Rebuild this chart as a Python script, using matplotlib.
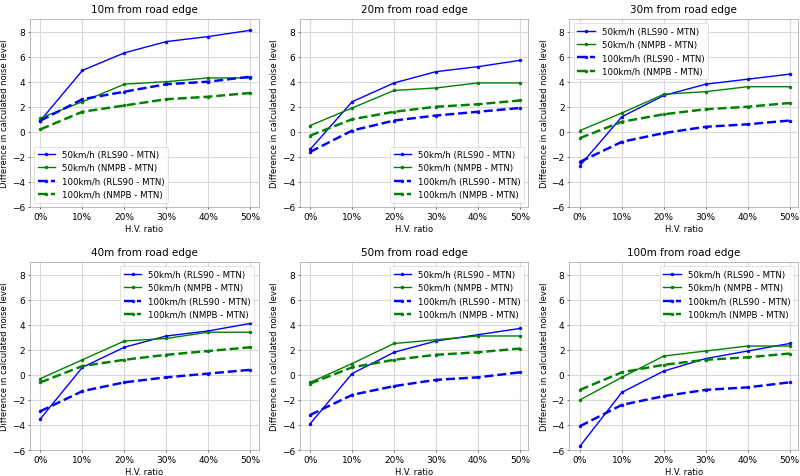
import matplotlib

matplotlib.use("Agg")

import matplotlib.pyplot as plt

ratios = ["0%", "10%", "20%", "30%", "40%", "50%"]
distances = ["10m", "20m", "30m", "40m", "50m", "100m"]

# difference values per distance: (50 RLS90, 50 NMPB, 100 RLS90, 100 NMPB)
v50_rls = [
    [0.9, 4.9, 6.3, 7.2, 7.6, 8.1],
    [-1.4, 2.4, 3.9, 4.8, 5.2, 5.7],
    [-2.7, 1.2, 2.9, 3.8, 4.2, 4.6],
    [-3.5, 0.6, 2.2, 3.1, 3.5, 4.1],
    [-3.9, 0.1, 1.8, 2.7, 3.2, 3.7],
    [-5.7, -1.4, 0.3, 1.3, 1.9, 2.5],
]
v50_nmpb = [
    [1.1, 2.4, 3.8, 4.0, 4.3, 4.3],
    [0.5, 1.9, 3.3, 3.5, 3.9, 3.9],
    [0.1, 1.5, 3.0, 3.2, 3.6, 3.6],
    [-0.3, 1.2, 2.7, 2.9, 3.4, 3.4],
    [-0.6, 0.9, 2.5, 2.8, 3.1, 3.1],
    [-2.0, -0.2, 1.5, 1.9, 2.3, 2.3],
]
v100_rls = [
    [0.9, 2.6, 3.2, 3.8, 4.0, 4.4],
    [-1.6, 0.1, 0.9, 1.3, 1.6, 1.9],
    [-2.4, -0.8, -0.1, 0.4, 0.6, 0.9],
    [-2.9, -1.3, -0.6, -0.2, 0.1, 0.4],
    [-3.2, -1.6, -0.9, -0.4, -0.2, 0.2],
    [-4.1, -2.4, -1.7, -1.2, -1.0, -0.6],
]
v100_nmpb = [
    [0.2, 1.6, 2.1, 2.6, 2.8, 3.1],
    [-0.3, 1.0, 1.6, 2.0, 2.2, 2.5],
    [-0.5, 0.8, 1.4, 1.8, 2.0, 2.3],
    [-0.6, 0.7, 1.2, 1.6, 1.9, 2.2],
    [-0.7, 0.6, 1.2, 1.6, 1.8, 2.1],
    [-1.2, 0.2, 0.8, 1.2, 1.4, 1.7],
]
legend_locs = ["lower left", "lower right", "upper left", "upper right", "upper right", "upper right"]

fig, axes = plt.subplots(2, 3, figsize=(16, 9.54), dpi=50)
x = list(range(len(ratios)))
for i, ax in enumerate(axes.flat):
    ax.plot(x, v50_rls[i], "-", color="blue", marker=".", lw=2, ms=8, label="50km/h (RLS90 - MTN)")
    ax.plot(x, v50_nmpb[i], "-", color="green", marker=".", lw=2, ms=8, label="50km/h (NMPB - MTN)")
    ax.plot(x, v100_rls[i], "--", color="blue", marker=".", lw=3.5, ms=8, label="100km/h (RLS90 - MTN)")
    ax.plot(x, v100_nmpb[i], "--", color="green", marker=".", lw=3.5, ms=8, label="100km/h (NMPB - MTN)")
    ax.set_title(f"{distances[i]} from road edge", fontsize=15, pad=10)
    ax.set_xticks(x)
    ax.set_xticklabels(ratios)
    ax.set_ylim(-6, 9)
    ax.set_yticks(range(-6, 9, 2))
    ax.set_xlim(-0.25, 5.2)
    ax.tick_params(labelsize=13)
    ax.grid(True, color="#dadada", lw=1.6)
    ax.set_axisbelow(True)
    ax.set_xlabel("H.V. ratio", fontsize=12)
    ax.set_ylabel("Difference in calculated noise level", fontsize=12)
    ax.legend(loc=legend_locs[i], fontsize=12.5)
    for s in ax.spines.values():
        s.set_color("#888888")

fig.subplots_adjust(left=0.0375, right=0.9975, top=0.958, bottom=0.0545, wspace=0.18, hspace=0.293)
fig.savefig("out.png", dpi=50)
plt.close(fig)
